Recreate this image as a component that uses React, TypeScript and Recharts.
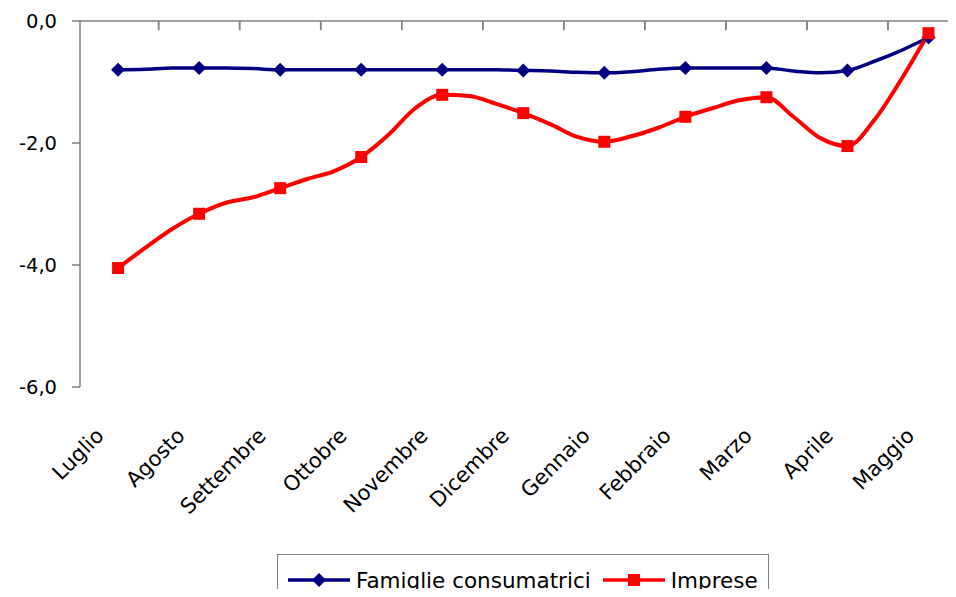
import { LineChart, Line, XAxis, YAxis, ReferenceLine } from "recharts";

const MONTHS = ["Luglio", "Agosto", "Settembre", "Ottobre", "Novembre", "Dicembre", "Gennaio", "Febbraio", "Marzo", "Aprile", "Maggio"];

// tre rilevazioni per mese, il marker cade sulla prima
const STEPS = 3;

const FAMIGLIE = [
  -0.8, -0.79, -0.77, -0.77, -0.77, -0.78, -0.8, -0.8, -0.8, -0.8, -0.8,
  -0.8, -0.8, -0.8, -0.8, -0.81, -0.82, -0.84, -0.85, -0.83, -0.79,
  -0.77, -0.77, -0.77, -0.77, -0.82, -0.85, -0.81, -0.66, -0.48, -0.27,
];

const IMPRESE = [
  -4.05, -3.72, -3.41, -3.16, -2.98, -2.89, -2.74, -2.59, -2.46, -2.23, -1.87,
  -1.43, -1.21, -1.23, -1.36, -1.51, -1.69, -1.9, -1.98, -1.89, -1.75,
  -1.57, -1.43, -1.3, -1.25, -1.57, -1.92, -2.05, -1.62, -0.95, -0.2,
];

const Y_TICKS = [0, -2, -4, -6];

const BLUE = "#000080";
const RED = "#ff0000";
const AXIS = "#808080";
const FONT = "'DejaVu Sans', sans-serif";

const data = FAMIGLIE.map((v, i) => ({ t: i / STEPS, famiglie: v, imprese: IMPRESE[i] }));

const monthTicks = MONTHS.map((_, i) => i);
const boundaryTicks = MONTHS.slice(1).map((_, i) => i + 0.5);

const fmt = (v: number) => v.toFixed(1).replace(".", ",");

function MonthTick({ x, y, payload }: any) {
  return (
    <text
      transform={`translate(${x - 13},${y + 50}) rotate(-45)`}
      textAnchor="end"
      fontSize={21}
      fill="#000"
    >
      {MONTHS[payload.value]}
    </text>
  );
}

function diamond(props: any) {
  const { cx, cy, index } = props;
  if (index % STEPS !== 0) return <g key={"d" + index} />;
  const r = 7;
  return (
    <polygon
      key={"d" + index}
      points={`${cx},${cy - r} ${cx + r},${cy} ${cx},${cy + r} ${cx - r},${cy}`}
      fill={BLUE}
    />
  );
}

function square(props: any) {
  const { cx, cy, index } = props;
  if (index % STEPS !== 0) return <g key={"s" + index} />;
  return <rect key={"s" + index} x={cx - 6} y={cy - 6} width={12} height={12} fill={RED} />;
}

function LegendBox() {
  const item = (color: string, marker: "diamond" | "square") => (
    <svg width={62} height={20} style={{ display: "block", flex: "none" }}>
      <line x1={0} y1={10} x2={62} y2={10} stroke={color} strokeWidth={3.5} />
      {marker === "diamond" ? (
        <polygon points="31,3 38,10 31,17 24,10" fill={color} />
      ) : (
        <rect x={25} y={4} width={12} height={12} fill={color} />
      )}
    </svg>
  );
  return (
    <div
      style={{
        position: "absolute",
        top: 554,
        left: 277,
        width: 492,
        boxSizing: "border-box",
        height: 52,
        border: `1px solid ${AXIS}`,
        background: "#fff",
        display: "flex",
        alignItems: "center",
        paddingLeft: 10,
        fontSize: 21.5,
        color: "#000",
        fontFamily: FONT,
        whiteSpace: "nowrap",
      }}
    >
      {item(BLUE, "diamond")}
      <span style={{ marginLeft: 6, marginRight: 12 }}>Famiglie consumatrici</span>
      {item(RED, "square")}
      <span style={{ marginLeft: 6 }}>Imprese</span>
    </div>
  );
}

export default function App() {
  return (
    <div style={{ margin: -8, width: 956, height: 597, overflow: "hidden", position: "relative", fontFamily: FONT }}>
      <LineChart width={970} height={597} data={data} margin={{ top: 21, right: 1, bottom: 0, left: 0 }}>
        <XAxis
          dataKey="t"
          type="number"
          domain={[-0.47, 10.5]}
          ticks={monthTicks}
          interval={0}
          tick={<MonthTick />}
          axisLine={false}
          tickLine={false}
          tickSize={0}
          tickMargin={0}
          height={210}
        />
        <XAxis
          xAxisId="top"
          dataKey="t"
          type="number"
          orientation="top"
          mirror
          domain={[-0.47, 10.5]}
          ticks={boundaryTicks}
          interval={0}
          tickSize={9}
          tick={{ fill: AXIS, fontSize: 10 }}
          tickFormatter={() => " "}
          axisLine={{ stroke: AXIS, strokeWidth: 1.5 }}
          tickLine={{ stroke: AXIS, strokeWidth: 1.5 }}
        />
        <YAxis
          type="number"
          domain={[-6, 0]}
          ticks={Y_TICKS}
          interval={0}
          width={80}
          tickSize={8}
          tickMargin={15}
          tickFormatter={fmt}
          tick={{ fill: "#000", fontSize: 19.5 }}
          axisLine={{ stroke: AXIS, strokeWidth: 1.5 }}
          tickLine={{ stroke: AXIS, strokeWidth: 1.5 }}
        />
        {/* tacche tra un mese e l'altro sull'asse dello zero */}
        {boundaryTicks.map((b) => (
          <ReferenceLine
            key={"b" + b}
            segment={[{ x: b, y: -0.01 }, { x: b, y: -0.15 }]}
            stroke={AXIS}
            strokeWidth={1.5}
          />
        ))}
        <Line
          type="monotone"
          dataKey="famiglie"
          name="Famiglie consumatrici"
          stroke={BLUE}
          strokeWidth={3.5}
          dot={diamond}
          activeDot={false}
          isAnimationActive={false}
        />
        <Line
          xAxisId="top"
          type="monotone"
          dataKey="imprese"
          name="Imprese"
          stroke={RED}
          strokeWidth={4}
          dot={square}
          activeDot={false}
          isAnimationActive={false}
        />
      </LineChart>
      <LegendBox />
    </div>
  );
}
